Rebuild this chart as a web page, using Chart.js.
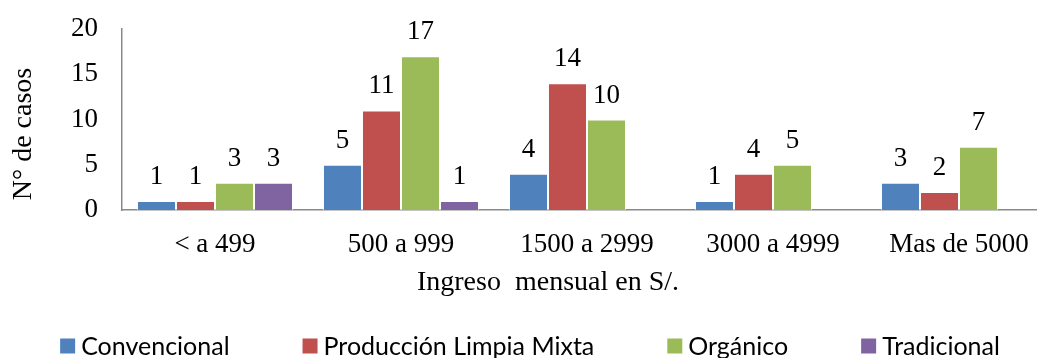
<!DOCTYPE html>
<html lang="es">
<head>
<meta charset="utf-8">
<title>Ingreso mensual por tipo de producción</title>
<script src="https://cdn.jsdelivr.net/npm/chart.js@4.4.1/dist/chart.umd.min.js"></script>
<style>
  html, body { margin: 0; padding: 0; background: #fff; overflow: hidden; }
  #wrap { position: relative; width: 1060px; height: 358px; }
</style>
</head>
<body>
<div id="wrap"><canvas id="ingresoChart"></canvas></div>
<script>
const categorias = ['< a 499', '500 a 999', '1500 a 2999', '3000 a 4999', 'Mas de 5000'];
const convencional = [1, 5, 4, 1, 3];
const produccionLimpiaMixta = [1, 11, 14, 4, 2];
const organico = [3, 17, 10, 5, 7];
const tradicional = [3, 1, 0, 0, 0];
const ticksY = [0, 5, 10, 15, 20];

const serif = "'Liberation Serif', 'Times New Roman', serif";

// números encima de cada barra (los ceros no se rotulan)
const valoresSobreBarras = {
    id: 'valoresSobreBarras',
    afterDatasetsDraw(chart) {
        const ctx = chart.ctx;
        ctx.save();
        ctx.font = '27px ' + serif;
        ctx.fillStyle = '#000';
        ctx.textAlign = 'center';
        ctx.textBaseline = 'alphabetic';
        chart.data.datasets.forEach((ds, i) => {
            chart.getDatasetMeta(i).data.forEach((bar, j) => {
                const v = ds.data[j];
                if (!v) return;
                ctx.fillText(String(v), bar.x, bar.y - 17);
            });
        });
        ctx.restore();
    },
};

// títulos de los ejes
const titulosEjes = {
    id: 'titulosEjes',
    afterDraw(chart, args, opts) {
        const ctx = chart.ctx;
        ctx.save();
        ctx.font = opts.font;
        ctx.fillStyle = '#000';
        ctx.textAlign = 'center';
        ctx.textBaseline = 'middle';
        ctx.fillText(opts.x.text, opts.x.cx, opts.x.cy);
        ctx.translate(opts.y.cx, opts.y.cy);
        ctx.rotate(-Math.PI / 2);
        ctx.fillText(opts.y.text, 0, 0);
        ctx.restore();
    },
};

// leyenda en una fila, con cuadros de color
const leyendaFila = {
    id: 'leyendaFila',
    afterDraw(chart, args, opts) {
        const ctx = chart.ctx;
        ctx.save();
        ctx.font = opts.font;
        ctx.textBaseline = 'middle';
        ctx.textAlign = 'left';
        const items = chart.data.datasets.map(ds => ({
            text: ds.label,
            color: ds.backgroundColor,
            w: ctx.measureText(ds.label).width,
        }));
        const total = items.reduce((s, it) => s + opts.box + opts.gap + it.w, 0) + opts.spacing * (items.length - 1);
        let x = chart.width / 2 - total / 2;
        items.forEach(it => {
            ctx.fillStyle = it.color;
            ctx.fillRect(x, opts.cy - opts.box / 2, opts.box, opts.box);
            ctx.fillStyle = '#000';
            ctx.fillText(it.text, x + opts.box + opts.gap, opts.cy + 1);
            x += opts.box + opts.gap + it.w + opts.spacing;
        });
        ctx.restore();
    },
};

new Chart(document.getElementById('ingresoChart'), {
    type: 'bar',
    data: {
        labels: categorias,
        datasets: [
            { label: 'Convencional', data: convencional, backgroundColor: '#4F81BD' },
            { label: 'Producción Limpia Mixta', data: produccionLimpiaMixta, backgroundColor: '#C0504D' },
            { label: 'Orgánico', data: organico, backgroundColor: '#9BBB59' },
            { label: 'Tradicional', data: tradicional, backgroundColor: '#8064A2' },
        ],
    },
    options: {
        responsive: true,
        maintainAspectRatio: false,
        animation: false,
        devicePixelRatio: 1,
        layout: {
            padding: { left: 0, top: 29, right: 8, bottom: 98 },
        },
        datasets: {
            bar: {
                categoryPercentage: 0.839,
                barPercentage: 1,
                borderColor: 'rgba(255,255,255,0.6)',
                borderWidth: 1,
            },
        },
        plugins: {
            legend: { display: false },
            tooltip: { enabled: false },
            titulosEjes: {
                font: '28px ' + serif,
                x: { text: 'Ingreso  mensual en S/.', cx: 548, cy: 283 },
                y: { text: 'N° de casos', cx: 24, cy: 134 },
            },
            leyendaFila: {
                font: "25px Lato, 'Liberation Sans', sans-serif",
                box: 15,
                gap: 6,
                spacing: 73,
                cy: 346,
            },
        },
        scales: {
            x: {
                grid: { display: false },
                border: { display: true, color: '#898989', width: 1.5 },
                ticks: {
                    color: '#000',
                    font: { family: serif, size: 27 },
                    padding: 11,
                    maxRotation: 0,
                    autoSkip: false,
                },
                afterFit(scale) { scale.height = 50; },
            },
            y: {
                min: 0,
                max: 20,
                grid: { display: false, drawTicks: false },
                border: { display: true, color: '#898989', width: 1.5 },
                afterBuildTicks(scale) { scale.ticks = ticksY.map(v => ({ value: v })); },
                ticks: {
                    color: '#000',
                    font: { family: serif, size: 27 },
                    padding: 24,
                },
                afterFit(scale) {
                    scale.width = 122;
                    scale.paddingTop = 0;
                    scale.paddingBottom = 0;
                },
            },
        },
    },
    plugins: [valoresSobreBarras, titulosEjes, leyendaFila],
});
</script>
</body>
</html>
